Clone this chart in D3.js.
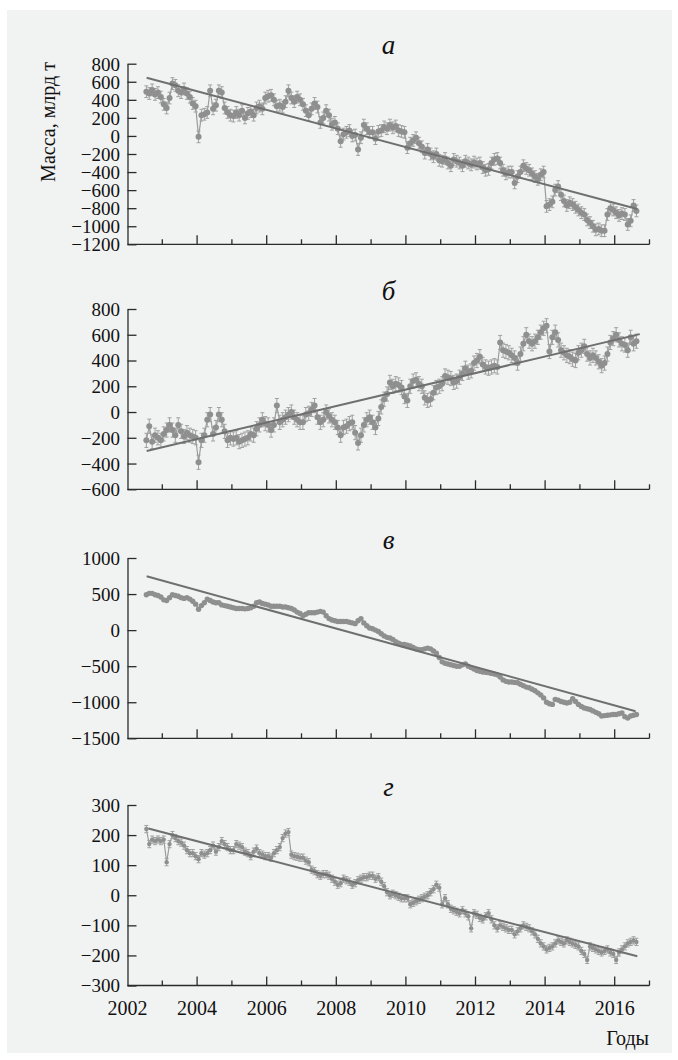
<!DOCTYPE html>
<html><head><meta charset="utf-8">
<script src="https://cdn.jsdelivr.net/npm/d3@7"></script>
<style>
html,body{margin:0;padding:0;background:#fff;}
svg{display:block;}
svg text{font-family:"Liberation Serif","Tinos","Times New Roman",Times,"DejaVu Serif","Noto Serif",serif !important;fill:#111;}
</style></head>
<body>
<svg id="chart" width="678" height="1060"></svg>
<script>
// ---- DATA (monthly, Jul 2002 .. Aug 2016) ----
const startYear = 2002, startMonth = 7;
const panelTitles = ["а", "б", "в", "г"];
const yTickValsA = [-1200,-1000,-800,-600,-400,-200,0,200,400,600,800];
const yTickValsB = [-600,-400,-200,0,200,400,600,800];
const yTickValsC = [-1500,-1000,-500,0,500,1000];
const yTickValsD = [-300,-200,-100,0,100,200,300];
const xTickLabels = [2002,2004,2006,2008,2010,2012,2014,2016];
const yLabel = "Масса, млрд т";
const xLabel = "Годы";

const seriesA = [
 490,470,510,460,480,430,
 350,310,420,580,560,500,480,520,470,430,360,330,
 -10,230,240,260,500,300,340,500,480,310,260,230,
 220,260,230,280,200,250,270,230,310,330,300,420,
 440,450,400,330,340,320,380,500,420,380,430,400,
 350,280,230,300,360,320,150,200,280,230,130,150,
 80,-60,20,40,60,0,10,-150,-20,120,80,40,
 40,-30,50,60,100,80,120,90,110,60,50,40,
 -130,-80,-50,-20,-80,-120,-190,-150,-200,-230,-200,-270,
 -280,-250,-300,-330,-260,-280,-300,-330,-280,-300,-320,-290,
 -310,-300,-350,-380,-370,-300,-260,-250,-300,-380,-420,-400,
 -400,-520,-450,-400,-330,-360,-380,-420,-450,-480,-430,-400,
 -780,-760,-730,-600,-560,-650,-720,-770,-740,-760,-790,-820,
 -850,-870,-930,-960,-1000,-1040,-1030,-1050,-1050,-870,-800,-820,
 -850,-880,-860,-870,-980,-940,-770,-830
];
const seriesB = [
 -220,-110,-230,-180,-200,-220,
 -170,-140,-100,-140,-180,-100,-150,-190,-160,-180,-190,-200,
 -390,-220,-180,-60,-20,-170,-120,-20,-60,-150,-220,-200,
 -210,-200,-230,-220,-210,-200,-170,-180,-130,-100,-60,-90,
 -100,-140,-100,50,-80,-60,-40,-20,0,-40,-60,-80,
 -80,-20,-10,20,50,-40,-80,-60,0,-30,-60,-80,
 -120,-180,-120,-110,-90,-80,-160,-240,-180,-100,-60,-40,
 -80,-120,-50,40,100,140,230,200,220,210,190,120,
 90,200,240,250,220,200,110,90,100,150,190,200,
 220,280,270,260,230,240,270,300,340,310,320,380,
 400,430,370,350,340,350,360,350,540,480,470,460,
 440,420,380,450,530,600,550,530,550,580,620,650,
 670,470,580,620,560,480,460,440,430,410,400,460,
 480,510,450,420,440,420,390,360,380,450,540,570,
 600,560,530,520,480,580,530,550
];
const seriesC = [
 490,510,510,490,480,460,
 420,410,450,490,480,470,450,440,450,430,400,360,
 290,340,380,430,410,390,380,380,350,340,330,320,
 310,300,300,300,295,300,310,330,380,390,370,360,
 350,330,330,330,330,320,320,310,300,280,250,230,
 200,220,240,240,240,250,260,250,200,160,140,130,
 120,120,120,120,110,100,90,130,160,100,60,30,
 20,0,-20,-50,-80,-100,-110,-130,-160,-180,-200,-200,
 -210,-220,-240,-260,-270,-270,-260,-250,-260,-290,-320,-380,
 -440,-460,-470,-480,-490,-500,-500,-480,-470,-500,-520,-540,
 -560,-570,-580,-585,-590,-600,-610,-620,-650,-690,-710,-720,
 -720,-725,-730,-750,-770,-790,-800,-820,-840,-870,-900,-940,
 -1000,-1020,-1030,-960,-970,-990,-1000,-1010,-1000,-950,-990,-1030,
 -1060,-1080,-1090,-1100,-1120,-1140,-1160,-1190,-1185,-1180,-1175,-1170,
 -1170,-1160,-1150,-1200,-1220,-1190,-1180,-1170
];
const seriesD = [
 220,170,185,180,185,180,
 185,110,170,200,190,180,175,165,150,140,140,130,
 120,140,135,140,150,165,145,160,180,170,160,150,
 150,170,165,160,145,140,130,145,155,140,135,130,
 130,125,140,150,160,190,205,210,135,130,128,125,
 125,115,110,85,80,70,65,70,70,65,55,45,
 35,40,55,50,45,35,40,50,55,60,60,65,
 65,55,60,45,30,10,0,5,0,-5,-10,-10,
 -10,-30,-25,-20,-15,-10,-5,0,10,20,35,25,
 -30,-10,-30,-45,-50,-55,-60,-50,-60,-70,-110,-60,
 -65,-75,-80,-70,-60,-80,-100,-110,-100,-105,-110,-115,
 -115,-130,-120,-110,-100,-105,-110,-120,-130,-145,-160,-170,
 -180,-175,-170,-160,-150,-155,-160,-150,-155,-160,-165,-170,
 -185,-195,-215,-170,-175,-180,-185,-190,-185,-180,-190,-195,
 -215,-190,-180,-170,-160,-155,-150,-155
];
// trend lines: [year, value] endpoints
const trendA = [[2002.55, 645], [2016.65, -810]];
const trendB = [[2002.55, -302], [2016.72, 605]];
const trendC = [[2002.55, 747], [2016.6, -1125]];
const trendD = [[2002.6, 222], [2016.65, -203]];
// error half-widths
const errA = 65, errB = 55, errC = 0, errD = 12;

// ---- LAYOUT ----
const FONT = '"Liberation Serif","Tinos","Times New Roman",Times,"DejaVu Serif","Noto Serif",serif';
const svg = d3.select("#chart");
svg.append("rect").attr("x",7).attr("y",10).attr("width",665).attr("height",1043).attr("fill","#f1f2f2");

const x = d3.scaleLinear().domain([2002, 2017]).range([127.5, 649.5]);
const panels = [
  {data: seriesA, ticks: yTickValsA, trend: trendA, err: errA, top: 63.7, bottom: 244.3, r: 3, title: panelTitles[0]},
  {data: seriesB, ticks: yTickValsB, trend: trendB, err: errB, top: 309, bottom: 489.3, r: 3, title: panelTitles[1]},
  {data: seriesC, ticks: yTickValsC, trend: trendC, err: errC, top: 558, bottom: 738.3, r: 2.7, title: panelTitles[2]},
  {data: seriesD, ticks: yTickValsD, trend: trendD, err: errD, top: 805, bottom: 985.5, r: 2.2, title: panelTitles[3]}
];
const tOf = i => startYear + (startMonth - 1 + i + 0.5) / 12;
const axisColor = "#2a2a2a";

panels.forEach((p, pi) => {
  const y = d3.scaleLinear().domain(d3.extent(p.ticks)).range([p.bottom, p.top]);
  const g = svg.append("g");
  const pts = p.data.map((v, i) => ({t: tOf(i), v}));

  g.append("path").datum(pts)
    .attr("fill","none").attr("stroke","#9c9c9c").attr("stroke-width",1.2)
    .attr("d", d3.line().x(d => x(d.t)).y(d => y(d.v)));

  if (p.err > 0) {
    const eb = g.append("g").attr("stroke","#a0a0a0").attr("stroke-width",1);
    pts.forEach(d => {
      eb.append("line").attr("x1",x(d.t)).attr("x2",x(d.t)).attr("y1",y(d.v - p.err)).attr("y2",y(d.v + p.err));
      eb.append("line").attr("x1",x(d.t)-2).attr("x2",x(d.t)+2).attr("y1",y(d.v + p.err)).attr("y2",y(d.v + p.err));
      eb.append("line").attr("x1",x(d.t)-2).attr("x2",x(d.t)+2).attr("y1",y(d.v - p.err)).attr("y2",y(d.v - p.err));
    });
  }
  g.append("g").selectAll("circle").data(pts).join("circle")
    .attr("cx", d => x(d.t)).attr("cy", d => y(d.v)).attr("r", p.r)
    .attr("fill", "#8f8f8f");

  g.append("path").datum(p.trend)
    .attr("fill","none").attr("stroke","#6f6f6f").attr("stroke-width",2)
    .attr("d", d3.line().x(d => x(d[0])).y(d => y(d[1])));

  const ya = g.append("g").attr("transform", `translate(${x(2002)},0)`)
    .call(d3.axisLeft(y).tickValues(p.ticks).tickSize(-9).tickSizeOuter(0).tickPadding(7.5).tickFormat(d => d < 0 ? "\u2212" + Math.abs(d) : d));
  ya.attr("font-family", FONT).attr("font-size", 19);
  ya.select(".domain").attr("stroke", axisColor).attr("stroke-width",1.3);
  ya.selectAll(".tick line").attr("stroke", axisColor).attr("stroke-width",1.3);
  ya.selectAll(".tick text").attr("font-family", FONT).attr("font-size",19).attr("fill","#111").attr("dy","0.34em");

  const xa = g.append("g").attr("transform", `translate(0,${p.bottom})`);
  xa.append("line").attr("x1", x(2002)).attr("x2", x(2017)).attr("y1",0).attr("y2",0)
    .attr("stroke", axisColor).attr("stroke-width",1.3);
  d3.range(2003, 2018).forEach(yr => {
    xa.append("line").attr("x1", x(yr)).attr("x2", x(yr)).attr("y1", 0).attr("y2", yr % 2 === 0 ? -9 : -5)
      .attr("stroke", axisColor).attr("stroke-width",1.3);
  });
  if (pi === 3) {
    xa.selectAll("text.xl").data(xTickLabels).join("text").attr("class","xl")
      .attr("x", d => x(d)).attr("y", 29.5).attr("text-anchor","middle")
      .attr("font-family", FONT).attr("font-size",20).text(d => d);
  }

  svg.append("text").attr("x", 388.5).attr("y", p.top - 9.5).attr("text-anchor","middle")
    .attr("font-family", FONT).attr("font-style","italic").attr("font-size",27).text(p.title);
});

svg.append("text").attr("transform","translate(54.5,122) rotate(-90)").attr("text-anchor","middle")
  .attr("font-family", FONT).attr("font-size",20).text(yLabel);
svg.append("text").attr("x", 649).attr("y", 1045).attr("text-anchor","end")
  .attr("font-family", FONT).attr("font-size",20).text(xLabel);
</script>
</body></html>
